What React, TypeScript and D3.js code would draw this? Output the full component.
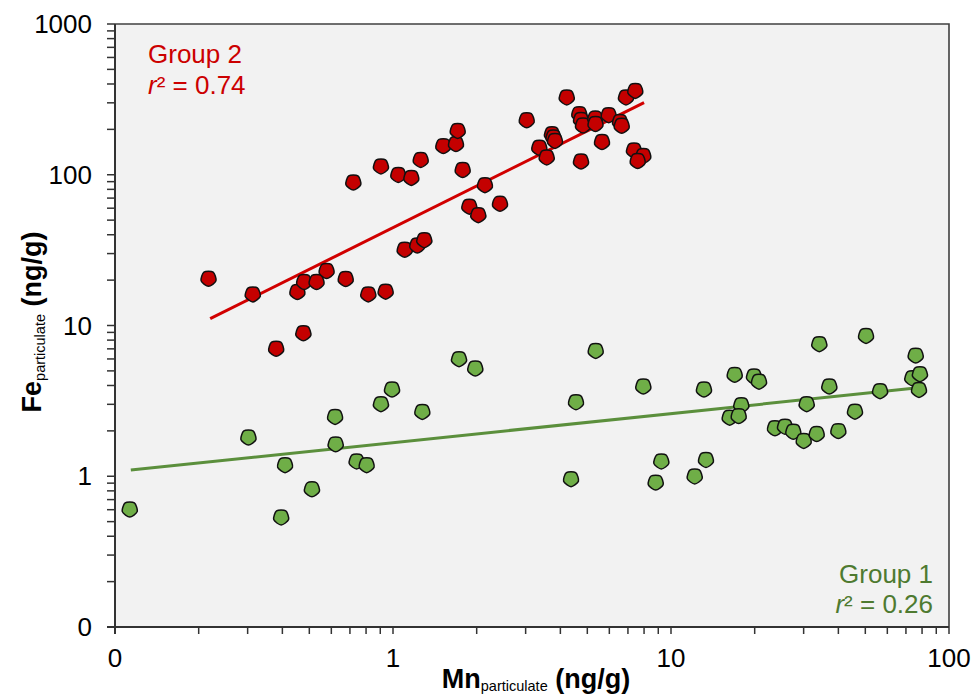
import React from "react";
import * as d3 from "d3";

// Group 2 (red) : Mn particulate (x), Fe particulate (y)
const group2Mn = [0.217, 0.313, 0.38, 0.453, 0.479, 0.531, 0.476, 0.577, 0.676, 0.72, 0.815, 0.905, 0.941, 1.045, 1.164, 1.102, 1.223, 1.296, 1.258, 1.517, 1.685, 1.709, 1.781, 1.882, 2.027, 2.142, 2.426, 3.027, 3.36, 3.572, 3.732, 3.779, 3.826, 4.217, 4.679, 4.746, 4.826, 4.746, 5.343, 5.351, 5.647, 5.97, 6.554, 6.648, 6.888, 7.44, 7.36, 7.951, 7.589];
const group2Fe = [20.7, 16.3, 7.1, 16.9, 19.7, 19.7, 9.0, 23.3, 20.6, 90, 16.3, 115, 17.0, 101, 96.6, 32.2, 34.4, 37.3, 127, 157, 162, 198, 109, 62.3, 54.7, 86.4, 65, 233, 153, 132, 188, 179, 170, 330, 256, 234, 215, 124, 239, 220, 167, 252, 227, 214, 330, 365, 147, 135, 125];

// Group 1 (green)
const group1Mn = [0.113, 0.302, 0.409, 0.396, 0.511, 0.619, 0.622, 0.74, 0.804, 0.905, 0.992, 1.275, 1.728, 1.977, 4.369, 4.553, 5.36, 7.951, 8.81, 9.23, 12.17, 13.36, 13.14, 16.95, 19.89, 20.73, 17.9, 16.26, 17.52, 23.66, 25.71, 27.54, 30.02, 33.43, 30.77, 34.16, 37.11, 39.99, 45.9, 50.3, 56.5, 75.9, 73.8, 78.6, 78.0];
const group1Fe = [0.61, 1.83, 1.2, 0.54, 0.83, 2.51, 1.65, 1.27, 1.2, 3.05, 3.81, 2.71, 6.06, 5.25, 0.97, 3.14, 6.88, 3.99, 0.92, 1.27, 1.01, 1.3, 3.81, 4.77, 4.65, 4.3, 3.0, 2.48, 2.54, 2.11, 2.16, 2.0, 1.74, 1.93, 3.05, 7.62, 3.99, 2.02, 2.72, 8.65, 3.72, 6.4, 4.53, 4.82, 3.79];

// Regression fits (log10 Fe = a + b log10 Mn) and x extents
const fit2 = { a: 1.649, b: 0.918, xMin: 0.22, xMax: 8.0 };
const fit1 = { a: 0.223, b: 0.1926, xMin: 0.114, xMax: 74.4 };

const xTickValues = [0.1, 1, 10, 100];
const xTickLabels = ["0", "1", "10", "100"];
const yTickValues = [0.1, 1, 10, 100, 1000];
const yTickLabels = ["0", "1", "10", "100", "1000"];

const W = 974;
const H = 697;
const L = 115, R = 949, T = 24, B = 627;
const FONT = "'Liberation Sans', Arial, Helvetica, sans-serif";

function minorTicks(lo: number, hi: number) {
  const out: number[] = [];
  for (let d = lo; d < hi; d *= 10) {
    for (let k = 2; k <= 9; k++) out.push(d * k);
  }
  return out;
}

const markerPath = (() => {
  const r = 7.8;
  const angles = [90, 162, 234, 306, 18].map((a) => (a * Math.PI) / 180);
  const pts: [number, number][] = angles.map((a) => [r * Math.cos(a), r * Math.sin(a) + 0.6]);
  return d3.line().curve(d3.curveCardinalClosed.tension(0.2))(pts) as string;
})();

export default function App() {
  const x = d3.scaleLog().domain([0.1, 100]).range([L, R]);
  const y = d3.scaleLog().domain([0.1, 1000]).range([B, T]);

  const xMinor = minorTicks(0.1, 100);
  const yMinor = minorTicks(0.1, 1000);

  const fitLine = (f: { a: number; b: number; xMin: number; xMax: number }) => {
    const xs = [f.xMin, f.xMax];
    return d3
      .line<number>()
      .x((v) => x(v))
      .y((v) => y(Math.pow(10, f.a + f.b * Math.log10(v))))(xs) as string;
  };

  const red = group2Mn.map((m, i) => ({ m, f: group2Fe[i] }));
  const green = group1Mn.map((m, i) => ({ m, f: group1Fe[i] }));

  return (
    <svg width={W} height={H} style={{ position: "absolute", left: 0, top: 0 }} fontFamily={FONT}>
      <rect x={0} y={0} width={W} height={H} fill="#ffffff" />
      <rect x={L} y={T} width={R - L} height={B - T} fill="#f2f2f2" />
      {/* top & right frame */}
      <path d={`M${L},${T}H${R}V${B}`} fill="none" stroke="#404040" strokeWidth={1.6} />

      {/* fit lines */}
      <path d={fitLine(fit1)} stroke="#5b8f3c" strokeWidth={3} fill="none" />
      <path d={fitLine(fit2)} stroke="#d10000" strokeWidth={3} fill="none" />

      {/* markers */}
      {green.map((p, i) => (
        <path key={"g" + i} d={markerPath} transform={`translate(${x(p.m)},${y(p.f)})`} fill="#6fae47" stroke="#111" strokeWidth={1.5} />
      ))}
      {red.map((p, i) => (
        <path key={"r" + i} d={markerPath} transform={`translate(${x(p.m)},${y(p.f)})`} fill="#c40000" stroke="#111" strokeWidth={1.5} />
      ))}

      {/* axes */}
      <line x1={L} x2={L} y1={T} y2={B + 7} stroke="#333" strokeWidth={2} />
      <line x1={L - 8} x2={R} y1={B} y2={B} stroke="#333" strokeWidth={2} />
      {yTickValues.concat(yMinor).map((v, i) => (
        <line key={"yt" + i} x1={L - 8} x2={L} y1={y(v)} y2={y(v)} stroke="#333" strokeWidth={1.5} />
      ))}
      {xTickValues.concat(xMinor).map((v, i) => (
        <line key={"xt" + i} x1={x(v)} x2={x(v)} y1={B} y2={B + 7} stroke="#333" strokeWidth={1.5} />
      ))}
      {yTickValues.map((v, i) => (
        <text key={"yl" + i} x={92} y={y(v)} dy="0.35em" textAnchor="end" fontSize={26} fill="#000">
          {yTickLabels[i]}
        </text>
      ))}
      {xTickValues.map((v, i) => (
        <text key={"xl" + i} x={x(v)} y={667} textAnchor="middle" fontSize={26} fill="#000">
          {xTickLabels[i]}
        </text>
      ))}

      {/* axis titles */}
      <text x={536} y={688} textAnchor="middle" fontSize={27} fontWeight="bold" fill="#000">
        Mn<tspan fontSize={14.5} fontWeight="normal" dy={3}>particulate</tspan>
        <tspan dy={-3}> (ng/g)</tspan>
      </text>
      <text transform={`translate(41,322) rotate(-90)`} textAnchor="middle" fontSize={27} fontWeight="bold" fill="#000">
        Fe<tspan fontSize={14.5} fontWeight="normal" dy={4}>particulate</tspan>
        <tspan dy={-4}> (ng/g)</tspan>
      </text>

      {/* annotations */}
      <text x={148} y={63} fontSize={26} fill="#cc0000">Group 2</text>
      <text x={148} y={94} fontSize={26} fill="#cc0000">
        <tspan fontStyle="italic">r</tspan>² = 0.74
      </text>
      <text x={933} y={583} textAnchor="end" fontSize={26} fill="#4e7a30">Group 1</text>
      <text x={933} y={613} textAnchor="end" fontSize={26} fill="#4e7a30">
        <tspan fontStyle="italic">r</tspan>² = 0.26
      </text>
    </svg>
  );
}
